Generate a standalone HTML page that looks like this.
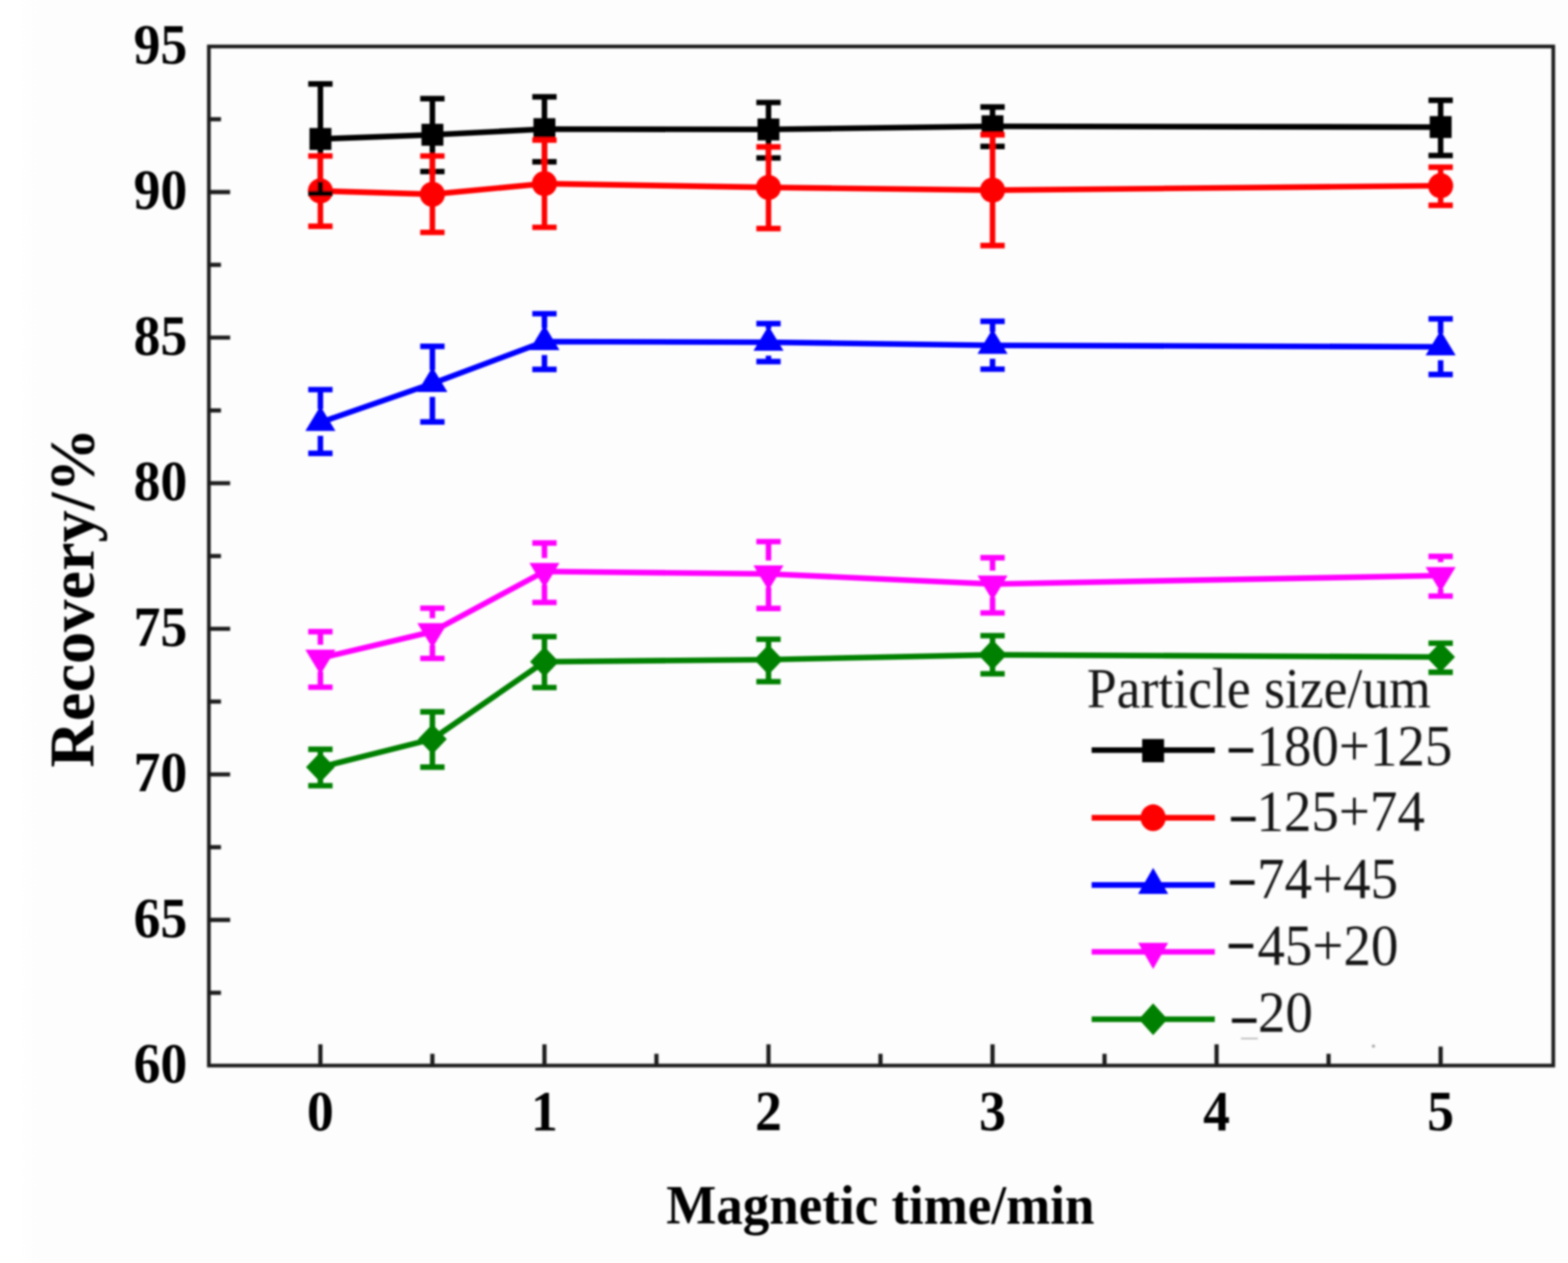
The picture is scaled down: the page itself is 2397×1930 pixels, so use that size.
<!DOCTYPE html>
<html lang="en"><head><meta charset="utf-8"><title>Recovery vs magnetic time</title>
<style>html,body{margin:0;padding:0;background:#fff;}body{width:2397px;height:1930px;}svg{display:block;}</style>
</head><body>
<svg width="2397" height="1930" viewBox="0 0 2397 1930" role="img" aria-label="Recovery versus magnetic time for five particle size fractions">
<defs><filter id="b" x="-2%" y="-2%" width="104%" height="104%" filterUnits="objectBoundingBox"><feGaussianBlur stdDeviation="1.7"/></filter><linearGradient id="bg" x1="0" x2="1" y1="0" y2="0"><stop offset="0" stop-color="#ffffff"/><stop offset="0.012" stop-color="#ffffff"/><stop offset="0.024" stop-color="#fdfdfd"/><stop offset="1" stop-color="#fdfdfd"/></linearGradient></defs>
<rect width="2397" height="1930" fill="url(#bg)"/>
<g filter="url(#b)">
<rect x="0" y="0" width="2397" height="1930" fill="none"/>
<g id="axes" stroke="#1a1a1a" fill="none">
<rect x="319.3" y="71" width="2055.2" height="1557.3" stroke-width="5.6"/>
<line x1="319.3" x2="337.8" y1="182.2" y2="182.2" stroke-width="6.4"/>
<line x1="319.3" x2="351.8" y1="293.5" y2="293.5" stroke-width="6.4"/>
<line x1="319.3" x2="337.8" y1="404.7" y2="404.7" stroke-width="6.4"/>
<line x1="319.3" x2="351.8" y1="515.9" y2="515.9" stroke-width="6.4"/>
<line x1="319.3" x2="337.8" y1="627.2" y2="627.2" stroke-width="6.4"/>
<line x1="319.3" x2="351.8" y1="738.4" y2="738.4" stroke-width="6.4"/>
<line x1="319.3" x2="337.8" y1="849.7" y2="849.7" stroke-width="6.4"/>
<line x1="319.3" x2="351.8" y1="960.9" y2="960.9" stroke-width="6.4"/>
<line x1="319.3" x2="337.8" y1="1072.1" y2="1072.1" stroke-width="6.4"/>
<line x1="319.3" x2="351.8" y1="1183.4" y2="1183.4" stroke-width="6.4"/>
<line x1="319.3" x2="337.8" y1="1294.6" y2="1294.6" stroke-width="6.4"/>
<line x1="319.3" x2="351.8" y1="1405.8" y2="1405.8" stroke-width="6.4"/>
<line x1="319.3" x2="337.8" y1="1517.1" y2="1517.1" stroke-width="6.4"/>
<line x1="489.8" x2="489.8" y1="1628.3" y2="1595.8" stroke-width="6.4"/>
<line x1="661.0" x2="661.0" y1="1628.3" y2="1610.3" stroke-width="6.4"/>
<line x1="832.3" x2="832.3" y1="1628.3" y2="1595.8" stroke-width="6.4"/>
<line x1="1003.5" x2="1003.5" y1="1628.3" y2="1610.3" stroke-width="6.4"/>
<line x1="1174.8" x2="1174.8" y1="1628.3" y2="1595.8" stroke-width="6.4"/>
<line x1="1346.0" x2="1346.0" y1="1628.3" y2="1610.3" stroke-width="6.4"/>
<line x1="1517.3" x2="1517.3" y1="1628.3" y2="1595.8" stroke-width="6.4"/>
<line x1="1688.5" x2="1688.5" y1="1628.3" y2="1610.3" stroke-width="6.4"/>
<line x1="1859.8" x2="1859.8" y1="1628.3" y2="1595.8" stroke-width="6.4"/>
<line x1="2031.0" x2="2031.0" y1="1628.3" y2="1610.3" stroke-width="6.4"/>
<line x1="2202.3" x2="2202.3" y1="1628.3" y2="1599.3" stroke-width="6.4"/>
</g>
<g id="series">
<path d="M489.8,212.3 L661.0,206.0 L832.3,197.3 L1174.8,197.8 L1517.3,193.0 L2202.3,194.2" stroke="#000000" stroke-width="8.6" fill="none" stroke-linejoin="round"/>
<rect x="473.1" y="195.6" width="33.5" height="33.5" fill="#000000"/>
<rect x="644.3" y="189.2" width="33.5" height="33.5" fill="#000000"/>
<rect x="815.5" y="180.6" width="33.5" height="33.5" fill="#000000"/>
<rect x="1158.0" y="181.1" width="33.5" height="33.5" fill="#000000"/>
<rect x="1500.5" y="176.2" width="33.5" height="33.5" fill="#000000"/>
<rect x="2185.6" y="177.4" width="33.5" height="33.5" fill="#000000"/>
<path d="M489.8,291.8 L661.0,296.9 L832.3,280.6 L1174.8,286.4 L1517.3,290.6 L2202.3,283.8" stroke="#ff0000" stroke-width="8.6" fill="none" stroke-linejoin="round"/>
<ellipse cx="489.8" cy="291.8" rx="19.2" ry="19.2" fill="#ff0000"/>
<ellipse cx="661.0" cy="296.9" rx="19.2" ry="19.2" fill="#ff0000"/>
<ellipse cx="832.3" cy="280.6" rx="19.2" ry="19.2" fill="#ff0000"/>
<ellipse cx="1174.8" cy="286.4" rx="19.2" ry="19.2" fill="#ff0000"/>
<ellipse cx="1517.3" cy="290.6" rx="19.2" ry="19.2" fill="#ff0000"/>
<ellipse cx="2202.3" cy="283.8" rx="19.2" ry="19.2" fill="#ff0000"/>
<path d="M489.8,645.5 L661.0,586.0 L832.3,522.0 L1174.8,523.0 L1517.3,527.7 L2202.3,530.0" stroke="#0000ff" stroke-width="8.6" fill="none" stroke-linejoin="round"/>
<polygon points="489.8,620.5 512.8,658.5 466.8,658.5" fill="#0000ff"/>
<polygon points="661.0,561.0 684.0,599.0 638.0,599.0" fill="#0000ff"/>
<polygon points="832.3,497.0 855.3,535.0 809.3,535.0" fill="#0000ff"/>
<polygon points="1174.8,498.0 1197.8,536.0 1151.8,536.0" fill="#0000ff"/>
<polygon points="1517.3,502.7 1540.3,540.7 1494.3,540.7" fill="#0000ff"/>
<polygon points="2202.3,505.0 2225.3,543.0 2179.3,543.0" fill="#0000ff"/>
<path d="M489.8,1005.8 L661.0,965.2 L832.3,873.3 L1174.8,877.0 L1517.3,892.5 L2202.3,879.5" stroke="#ff00ff" stroke-width="8.6" fill="none" stroke-linejoin="round"/>
<polygon points="489.8,1030.8 512.8,992.8 466.8,992.8" fill="#ff00ff"/>
<polygon points="661.0,990.2 684.0,952.2 638.0,952.2" fill="#ff00ff"/>
<polygon points="832.3,898.3 855.3,860.3 809.3,860.3" fill="#ff00ff"/>
<polygon points="1174.8,902.0 1197.8,864.0 1151.8,864.0" fill="#ff00ff"/>
<polygon points="1517.3,917.5 1540.3,879.5 1494.3,879.5" fill="#ff00ff"/>
<polygon points="2202.3,904.5 2225.3,866.5 2179.3,866.5" fill="#ff00ff"/>
<path d="M489.8,1172.3 L661.0,1129.4 L832.3,1011.2 L1174.8,1008.0 L1517.3,1000.6 L2202.3,1004.0" stroke="#008000" stroke-width="8.6" fill="none" stroke-linejoin="round"/>
<polygon points="489.8,1149.3 511.8,1172.3 489.8,1195.3 467.8,1172.3" fill="#008000"/>
<polygon points="661.0,1106.4 683.0,1129.4 661.0,1152.4 639.0,1129.4" fill="#008000"/>
<polygon points="832.3,988.2 854.3,1011.2 832.3,1034.2 810.3,1011.2" fill="#008000"/>
<polygon points="1174.8,985.0 1196.8,1008.0 1174.8,1031.0 1152.8,1008.0" fill="#008000"/>
<polygon points="1517.3,977.6 1539.3,1000.6 1517.3,1023.6 1495.3,1000.6" fill="#008000"/>
<polygon points="2202.3,981.0 2224.3,1004.0 2202.3,1027.0 2180.3,1004.0" fill="#008000"/>
</g>
<g id="errorbars" fill="none">
<path d="M489.8,128.3V198.3M489.8,226.3V295.9M471.2,128.3H508.4M471.2,295.9H508.4" stroke="#000000" stroke-width="8.4"/>
<path d="M661.0,150.8V192.0M661.0,220.0V262.1M642.4,150.8H679.6M642.4,262.1H679.6" stroke="#000000" stroke-width="8.4"/>
<path d="M832.3,148.0V183.3M832.3,211.3V247.2M813.7,148.0H850.9M813.7,247.2H850.9" stroke="#000000" stroke-width="8.4"/>
<path d="M1174.8,156.6V183.8M1174.8,211.8V241.4M1156.2,156.6H1193.4M1156.2,241.4H1193.4" stroke="#000000" stroke-width="8.4"/>
<path d="M1517.3,163.5V179.0M1517.3,207.0V223.8M1498.7,163.5H1535.9M1498.7,223.8H1535.9" stroke="#000000" stroke-width="8.4"/>
<path d="M2202.3,153.3V180.2M2202.3,208.2V237.6M2183.7,153.3H2220.9M2183.7,237.6H2220.9" stroke="#000000" stroke-width="8.4"/>
<path d="M489.8,238.4V277.8M489.8,305.8V345.8M471.2,238.4H508.4M471.2,345.8H508.4" stroke="#ff0000" stroke-width="8.4"/>
<path d="M661.0,238.4V282.9M661.0,310.9V355.1M642.4,238.4H679.6M642.4,355.1H679.6" stroke="#ff0000" stroke-width="8.4"/>
<path d="M832.3,214.1V266.6M832.3,294.6V347.4M813.7,214.1H850.9M813.7,347.4H850.9" stroke="#ff0000" stroke-width="8.4"/>
<path d="M1174.8,224.5V272.4M1174.8,300.4V349.3M1156.2,224.5H1193.4M1156.2,349.3H1193.4" stroke="#ff0000" stroke-width="8.4"/>
<path d="M1517.3,206.0V276.6M1517.3,304.6V375.3M1498.7,206.0H1535.9M1498.7,375.3H1535.9" stroke="#ff0000" stroke-width="8.4"/>
<path d="M2202.3,255.5V269.8M2202.3,297.8V313.7M2183.7,255.5H2220.9M2183.7,313.7H2220.9" stroke="#ff0000" stroke-width="8.4"/>
<path d="M489.8,595.4V625.0M489.8,666.0V692.8M471.2,595.4H508.4M471.2,692.8H508.4" stroke="#0000ff" stroke-width="8.4"/>
<path d="M661.0,529.3V565.5M661.0,606.5V644.8M642.4,529.3H679.6M642.4,644.8H679.6" stroke="#0000ff" stroke-width="8.4"/>
<path d="M832.3,479.4V501.5M832.3,542.5V564.5M813.7,479.4H850.9M813.7,564.5H850.9" stroke="#0000ff" stroke-width="8.4"/>
<path d="M1174.8,494.5V502.5M1174.8,543.5V552.5M1156.2,494.5H1193.4M1156.2,552.5H1193.4" stroke="#0000ff" stroke-width="8.4"/>
<path d="M1517.3,491.0V507.2M1517.3,548.2V564.1M1498.7,491.0H1535.9M1498.7,564.1H1535.9" stroke="#0000ff" stroke-width="8.4"/>
<path d="M2202.3,487.3V509.5M2202.3,550.5V572.2M2183.7,487.3H2220.9M2183.7,572.2H2220.9" stroke="#0000ff" stroke-width="8.4"/>
<path d="M489.8,965.2V985.3M489.8,1026.3V1050.1M471.2,965.2H508.4M471.2,1050.1H508.4" stroke="#ff00ff" stroke-width="8.4"/>
<path d="M661.0,929.4V944.7M661.0,985.7V1006.1M642.4,929.4H679.6M642.4,1006.1H679.6" stroke="#ff00ff" stroke-width="8.4"/>
<path d="M832.3,829.7V852.8M832.3,893.8V920.6M813.7,829.7H850.9M813.7,920.6H850.9" stroke="#ff00ff" stroke-width="8.4"/>
<path d="M1174.8,827.6V856.5M1174.8,897.5V929.8M1156.2,827.6H1193.4M1156.2,929.8H1193.4" stroke="#ff00ff" stroke-width="8.4"/>
<path d="M1517.3,852.2V872.0M1517.3,913.0V936.6M1498.7,852.2H1535.9M1498.7,936.6H1535.9" stroke="#ff00ff" stroke-width="8.4"/>
<path d="M2202.3,850.3V859.0M2202.3,900.0V910.9M2183.7,850.3H2220.9M2183.7,910.9H2220.9" stroke="#ff00ff" stroke-width="8.4"/>
<path d="M489.8,1145.0V1158.3M489.8,1186.3V1200.6M471.2,1145.0H508.4M471.2,1200.6H508.4" stroke="#008000" stroke-width="8.4"/>
<path d="M661.0,1087.7V1115.4M661.0,1143.4V1172.3M642.4,1087.7H679.6M642.4,1172.3H679.6" stroke="#008000" stroke-width="8.4"/>
<path d="M832.3,972.9V997.2M832.3,1025.2V1050.6M813.7,972.9H850.9M813.7,1050.6H850.9" stroke="#008000" stroke-width="8.4"/>
<path d="M1174.8,976.9V994.0M1174.8,1022.0V1041.6M1156.2,976.9H1193.4M1156.2,1041.6H1193.4" stroke="#008000" stroke-width="8.4"/>
<path d="M1517.3,971.4V986.6M1517.3,1014.6V1029.6M1498.7,971.4H1535.9M1498.7,1029.6H1535.9" stroke="#008000" stroke-width="8.4"/>
<path d="M2202.3,982.9V990.0M2202.3,1018.0V1027.3M2183.7,982.9H2220.9M2183.7,1027.3H2220.9" stroke="#008000" stroke-width="8.4"/>
</g>
<g id="legend">
<line x1="1668.8" x2="1857.1" y1="1146.3" y2="1146.3" stroke="#000000" stroke-width="8.6"/>
<rect x="1746.0" y="1129.3" width="33.5" height="35.5" fill="#000000"/>
<line x1="1668.8" x2="1857.1" y1="1249.6" y2="1249.6" stroke="#ff0000" stroke-width="8.6"/>
<ellipse cx="1762.8" cy="1249.6" rx="19.2" ry="20.5" fill="#ff0000"/>
<line x1="1668.8" x2="1857.1" y1="1352.4" y2="1352.4" stroke="#0000ff" stroke-width="8.6"/>
<polygon points="1762.8,1326.2 1785.8,1366.1 1739.8,1366.1" fill="#0000ff"/>
<line x1="1668.8" x2="1857.1" y1="1454.5" y2="1454.5" stroke="#ff00ff" stroke-width="8.6"/>
<polygon points="1762.8,1480.8 1785.8,1440.8 1739.8,1440.8" fill="#ff00ff"/>
<line x1="1668.8" x2="1857.1" y1="1557.5" y2="1557.5" stroke="#008000" stroke-width="8.6"/>
<polygon points="1762.8,1533.3 1784.8,1557.5 1762.8,1581.7 1740.8,1557.5" fill="#008000"/>
<text transform="translate(1874.0,1178.7) scale(1,1.2)" font-family="'Liberation Serif',serif" font-weight="bold" font-size="81" fill="#111">−</text>
<text transform="translate(1920.8,1168.6) scale(1,1.055)" font-family="'Liberation Serif',serif" font-size="84" fill="#141414">180+125</text>
<text transform="translate(1877.5,1284.3) scale(1,1.2)" font-family="'Liberation Serif',serif" font-weight="bold" font-size="81" fill="#111">−</text>
<text transform="translate(1920.8,1269.2) scale(1,1.055)" font-family="'Liberation Serif',serif" font-size="84" fill="#141414">125+74</text>
<text transform="translate(1876.0,1381.0) scale(1,1.2)" font-family="'Liberation Serif',serif" font-weight="bold" font-size="81" fill="#111">−</text>
<text transform="translate(1921.8,1371.6) scale(1,1.055)" font-family="'Liberation Serif',serif" font-size="84" fill="#141414">74+45</text>
<text transform="translate(1874.0,1477.9) scale(1,1.2)" font-family="'Liberation Serif',serif" font-weight="bold" font-size="81" fill="#111">−</text>
<text transform="translate(1922.3,1473.6) scale(1,1.055)" font-family="'Liberation Serif',serif" font-size="84" fill="#141414">45+20</text>
<text transform="translate(1879.0,1591.5) scale(1,1.2)" font-family="'Liberation Serif',serif" font-weight="bold" font-size="81" fill="#111">−</text>
<text transform="translate(1923.0,1576.0) scale(1,1.055)" font-family="'Liberation Serif',serif" font-size="84" fill="#141414">20</text>
<text transform="translate(1661.5,1080.6) scale(1,1.055)" font-family="'Liberation Serif',serif" font-size="82" fill="#141414">Particle size/um</text>
<line x1="1897" x2="1923" y1="1587" y2="1587" stroke="#bdbdbd" stroke-width="2.5"/>
<circle cx="2099.6" cy="1598.5" r="2.6" fill="#b0b0b0"/>
</g>
<g id="ticklabels" font-family="'Liberation Serif',serif" font-weight="bold" font-size="82" fill="#000">
<text transform="translate(286.2,1654.1) scale(1,1.07)" text-anchor="end">60</text>
<text transform="translate(286.2,1431.6) scale(1,1.07)" text-anchor="end">65</text>
<text transform="translate(286.2,1209.2) scale(1,1.07)" text-anchor="end">70</text>
<text transform="translate(286.2,986.7) scale(1,1.07)" text-anchor="end">75</text>
<text transform="translate(286.2,764.2) scale(1,1.07)" text-anchor="end">80</text>
<text transform="translate(286.2,541.7) scale(1,1.07)" text-anchor="end">85</text>
<text transform="translate(286.2,319.3) scale(1,1.07)" text-anchor="end">90</text>
<text transform="translate(286.2,96.8) scale(1,1.07)" text-anchor="end">95</text>
<text transform="translate(489.8,1727.2) scale(1,1.07)" text-anchor="middle">0</text>
<text transform="translate(832.3,1727.2) scale(1,1.07)" text-anchor="middle">1</text>
<text transform="translate(1174.8,1727.2) scale(1,1.07)" text-anchor="middle">2</text>
<text transform="translate(1517.3,1727.2) scale(1,1.07)" text-anchor="middle">3</text>
<text transform="translate(1859.8,1727.2) scale(1,1.07)" text-anchor="middle">4</text>
<text transform="translate(2202.3,1727.2) scale(1,1.07)" text-anchor="middle">5</text>
</g>
<text transform="translate(1345.8,1869.8) scale(1,1.04)" text-anchor="middle" font-family="'Liberation Serif',serif" font-weight="bold" font-size="81" fill="#000">Magnetic time/min</text>
<text transform="translate(143,913.5) rotate(-90)" text-anchor="middle" font-family="'Liberation Serif',serif" font-weight="bold" font-size="98.4" fill="#000">Recovery/%</text>
</g></svg>
</body></html>
